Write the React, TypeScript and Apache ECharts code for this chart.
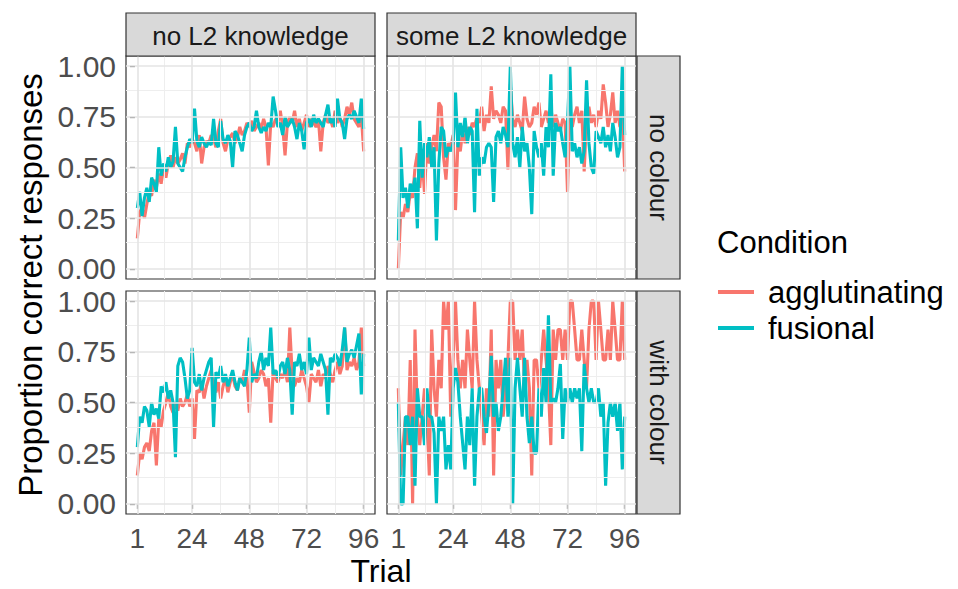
import React, { useEffect, useRef } from "react";
import * as echarts from "echarts";

// ---------- data ----------
const trials = [
  1, 2, 3, 4, 5, 6, 7, 8, 9, 10, 11, 12, 13, 14, 15, 16, 17, 18, 19, 20,
  21, 22, 23, 24, 25, 26, 27, 28, 29, 30, 31, 32, 33, 34, 35, 36, 37, 38, 39, 40,
  41, 42, 43, 44, 45, 46, 47, 48, 49, 50, 51, 52, 53, 54, 55, 56, 57, 58, 59, 60,
  61, 62, 63, 64, 65, 66, 67, 68, 69, 70, 71, 72, 73, 74, 75, 76, 77, 78, 79, 80,
  81, 82, 83, 84, 85, 86, 87, 88, 89, 90, 91, 92, 93, 94, 95, 96,
];
const xTicks = [1, 24, 48, 72, 96];
const xMinor = [12.5, 36, 60, 84];
const yTicks = [0, 0.25, 0.5, 0.75, 1];
const yMinor = [0.125, 0.375, 0.625, 0.875];
const colStrips = ["no L2 knowledge", "some L2 knowledge"];
const rowStrips = ["no colour", "with colour"];
const conditions = ["agglutinating", "fusional"];
const conditionColors = ["#F8766D", "#00BFC4"];

// no L2 knowledge / no colour
const noL2NoColourAgg = [
  0.15, 0.28, 0.30, 0.25, 0.32, 0.38, 0.36, 0.44, 0.40, 0.47,
  0.42, 0.50, 0.45, 0.52, 0.56, 0.50, 0.55, 0.52, 0.54, 0.57,
  0.52, 0.62, 0.60, 0.64, 0.62, 0.58, 0.66, 0.52, 0.60, 0.63,
  0.62, 0.66, 0.64, 0.60, 0.68, 0.74, 0.62, 0.58, 0.64, 0.65,
  0.67, 0.62, 0.65, 0.70, 0.66, 0.68, 0.72, 0.70, 0.73, 0.68,
  0.70, 0.72, 0.69, 0.74, 0.70, 0.51, 0.72, 0.70, 0.74, 0.72,
  0.78, 0.70, 0.56, 0.72, 0.75, 0.72, 0.78, 0.70, 0.74, 0.68,
  0.72, 0.76, 0.70, 0.74, 0.72, 0.70, 0.74, 0.58, 0.72, 0.76,
  0.72, 0.74, 0.70, 0.78, 0.72, 0.75, 0.70, 0.74, 0.80, 0.76,
  0.82, 0.74, 0.72, 0.70, 0.76, 0.58,
];
const noL2NoColourFus = [
  0.30, 0.38, 0.26, 0.35, 0.40, 0.33, 0.45, 0.42, 0.38, 0.60,
  0.46, 0.52, 0.48, 0.55, 0.50, 0.53, 0.70, 0.52, 0.50, 0.48,
  0.55, 0.60, 0.64, 0.62, 0.79, 0.63, 0.60, 0.65, 0.62, 0.60,
  0.63, 0.61, 0.74, 0.62, 0.60, 0.73, 0.64, 0.62, 0.66, 0.63,
  0.50, 0.68, 0.66, 0.62, 0.58, 0.66, 0.70, 0.72, 0.68, 0.70,
  0.78, 0.70, 0.67, 0.70, 0.68, 0.72, 0.70, 0.85, 0.78, 0.70,
  0.72, 0.66, 0.75, 0.70, 0.72, 0.74, 0.70, 0.64, 0.72, 0.68,
  0.59, 0.72, 0.74, 0.70, 0.76, 0.72, 0.74, 0.72, 0.70, 0.76,
  0.81, 0.72, 0.74, 0.70, 0.84, 0.74, 0.72, 0.64, 0.74, 0.76,
  0.74, 0.78, 0.75, 0.72, 0.84, 0.69,
];
// some L2 knowledge / no colour
const someL2NoColourAgg = [
  0.00, 0.28, 0.25, 0.32, 0.28, 0.38, 0.35, 0.50, 0.57, 0.40,
  0.55, 0.37, 0.62, 0.52, 0.60, 0.66, 0.58, 0.82, 0.80, 0.55,
  0.44, 0.62, 0.60, 0.66, 0.29, 0.62, 0.58, 0.68, 0.62, 0.70,
  0.66, 0.72, 0.70, 0.75, 0.72, 0.80, 0.68, 0.76, 0.72, 0.90,
  0.74, 0.78, 0.76, 0.72, 0.80, 0.78, 0.49, 0.91, 0.74, 0.70,
  0.76, 0.72, 0.68, 0.85, 0.74, 0.70, 0.72, 0.80, 0.76, 0.82,
  0.70, 0.74, 0.78, 0.72, 0.80, 0.70, 0.76, 0.72, 0.68, 0.74,
  0.72, 0.38, 0.78, 0.70, 0.76, 0.80, 0.72, 0.78, 0.48, 0.74,
  0.80, 0.72, 0.76, 0.70, 0.78, 0.74, 0.91, 0.82, 0.70, 0.76,
  0.87, 0.72, 0.78, 0.70, 0.80, 0.48,
];
const someL2NoColourFus = [
  0.14, 0.60, 0.35, 0.40, 0.30, 0.42, 0.38, 0.45, 0.20, 0.73,
  0.45, 0.62, 0.55, 0.65, 0.50, 0.60, 0.14, 0.52, 0.70, 0.68,
  0.55, 0.60, 0.58, 0.62, 0.87, 0.60, 0.72, 0.65, 0.75, 0.62,
  0.70, 0.68, 0.28, 0.79, 0.46, 0.55, 0.52, 0.60, 0.62, 0.60,
  0.33, 0.65, 0.68, 0.62, 0.70, 0.66, 0.60, 1.00, 0.62, 0.55,
  0.65, 0.50, 0.70, 0.58, 0.62, 0.50, 0.27, 0.68, 0.60, 0.55,
  0.62, 0.46, 0.70, 0.60, 0.96, 0.46, 0.72, 0.68, 0.70, 0.62,
  0.55, 0.72, 1.00, 0.58, 0.62, 0.55, 0.60, 0.52, 0.58, 0.93,
  0.62, 0.50, 0.47, 0.68, 0.65, 0.62, 0.70, 0.60, 0.66, 0.58,
  0.72, 0.65, 0.55, 0.60, 1.00, 0.66,
];
// no L2 knowledge / with colour
const noL2WithColourAgg = [
  0.14, 0.25, 0.22, 0.28, 0.30, 0.26, 0.36, 0.40, 0.19, 0.42,
  0.38, 0.46, 0.50, 0.55, 0.48, 0.45, 0.50, 0.46, 0.52, 0.48,
  0.50, 0.54, 0.48, 0.52, 0.32, 0.56, 0.55, 0.60, 0.52, 0.58,
  0.62, 0.66, 0.58, 0.55, 0.60, 0.52, 0.58, 0.62, 0.55, 0.60,
  0.64, 0.58, 0.56, 0.62, 0.60, 0.66, 0.62, 0.45, 0.70, 0.65,
  0.60, 0.62, 0.66, 0.64, 0.58, 0.62, 0.40, 0.66, 0.62, 0.60,
  0.64, 0.62, 0.66, 0.60, 0.87, 0.64, 0.58, 0.62, 0.60, 0.66,
  0.62, 0.58, 0.50, 0.64, 0.62, 0.60, 0.66, 0.58, 0.64, 0.62,
  0.68, 0.64, 0.60, 0.66, 0.70, 0.64, 0.68, 0.87, 0.66, 0.70,
  0.68, 0.72, 0.66, 0.70, 0.87, 0.68,
];
const noL2WithColourFus = [
  0.28, 0.43, 0.40, 0.48, 0.46, 0.38, 0.50, 0.44, 0.47, 0.42,
  0.58, 0.55, 0.60, 0.52, 0.56, 0.50, 0.23, 0.68, 0.72, 0.70,
  0.62, 0.52, 0.56, 0.77, 0.60, 0.58, 0.64, 0.56, 0.62, 0.66,
  0.70, 0.72, 0.38, 0.65, 0.62, 0.68, 0.60, 0.64, 0.58, 0.62,
  0.66, 0.60, 0.56, 0.62, 0.60, 0.58, 0.66, 0.82, 0.60, 0.64,
  0.62, 0.70, 0.75, 0.66, 0.72, 0.68, 0.87, 0.64, 0.66, 0.62,
  0.68, 0.70, 0.64, 0.72, 0.66, 0.44, 0.70, 0.68, 0.74, 0.66,
  0.70, 0.64, 0.82, 0.66, 0.72, 0.70, 0.68, 0.74, 0.70, 0.66,
  0.44, 0.72, 0.70, 0.74, 0.72, 0.68, 0.76, 0.87, 0.70, 0.74,
  0.76, 0.72, 0.78, 0.84, 0.54, 0.74,
];
// some L2 knowledge / with colour
const someL2WithColourAgg = [
  0.57, 0.14, 0.29, 0.43, 0.29, 0.71, 0.00, 0.86, 0.43, 0.29,
  0.43, 0.57, 0.43, 0.14, 0.86, 0.57, 0.43, 0.71, 0.57, 1.00,
  0.86, 1.00, 0.43, 0.71, 1.00, 0.71, 0.57, 0.71, 0.57, 0.86,
  0.71, 0.57, 1.00, 0.71, 0.57, 0.43, 0.29, 0.57, 0.43, 0.86,
  0.14, 0.71, 0.57, 0.71, 0.43, 0.57, 0.71, 1.00, 1.00, 0.71,
  0.86, 0.71, 0.86, 0.57, 0.71, 0.57, 0.14, 0.71, 0.71, 0.57,
  0.71, 0.86, 0.71, 0.57, 0.29, 0.86, 0.71, 0.86, 0.86, 0.71,
  0.86, 0.71, 1.00, 1.00, 0.86, 0.71, 0.71, 0.86, 0.71, 0.57,
  0.86, 1.00, 1.00, 0.71, 1.00, 0.86, 0.71, 0.71, 0.86, 0.71,
  1.00, 0.86, 0.71, 0.71, 1.00, 0.71,
];
const someL2WithColourFus = [
  0.50, 0.00, 0.00, 0.43, 0.43, 0.29, 0.43, 0.09, 0.57, 0.43,
  0.43, 0.29, 0.57, 0.43, 0.43, 0.35, 0.00, 0.43, 0.36, 0.43,
  0.17, 0.29, 0.17, 0.57, 0.67, 0.60, 0.43, 0.30, 0.17, 0.43,
  0.29, 0.57, 0.09, 0.43, 0.57, 0.57, 0.43, 0.35, 0.50, 0.73,
  0.43, 0.50, 0.36, 0.43, 0.57, 0.72, 0.43, 0.72, 0.00, 0.57,
  0.72, 0.57, 0.43, 0.72, 0.43, 0.30, 0.43, 0.25, 0.25, 0.57,
  0.43, 0.67, 0.50, 0.93, 0.50, 0.52, 0.50, 0.57, 0.69, 0.32,
  0.57, 0.50, 0.57, 0.50, 0.57, 0.52, 0.57, 0.26, 0.69, 0.57,
  0.50, 0.57, 0.50, 0.50, 0.57, 0.43, 0.50, 0.09, 0.40, 0.50,
  0.43, 0.50, 0.36, 0.50, 0.17, 0.43,
];

const panelData = [
  [noL2NoColourAgg, noL2NoColourFus],
  [someL2NoColourAgg, someL2NoColourFus],
  [noL2WithColourAgg, noL2WithColourFus],
  [someL2WithColourAgg, someL2WithColourFus],
];

// ---------- layout ----------
const FONT = "'Liberation Sans', Arial, Helvetica, sans-serif";
const PANEL_LEFT = [126, 387];
const PANEL_TOP = [56, 291];
const PANEL_W = 249;
const PANEL_H = 223;
const STRIP_TOP_Y = 13;
const STRIP_RIGHT_X = 637;
const STRIP_RIGHT_W = 43;

export default function App() {
  const ref = useRef<HTMLDivElement>(null);

  useEffect(() => {
    document.body.style.margin = "0";
    if (!ref.current) return;
    const chart = echarts.init(ref.current, null, { renderer: "svg" });

    const grids: any[] = [];
    const xAxes: any[] = [];
    const yAxes: any[] = [];
    const series: any[] = [];

    for (let p = 0; p < 4; p++) {
      const row = Math.floor(p / 2);
      const col = p % 2;
      grids.push({
        left: PANEL_LEFT[col],
        top: PANEL_TOP[row],
        width: PANEL_W,
        height: PANEL_H,
        show: true,
        backgroundColor: "#ffffff",
        borderColor: "#333333",
        borderWidth: 1.2,
        z: 0,
      });
      xAxes.push({
        type: "value",
        gridIndex: p,
        min: -3.75,
        max: 100.75,
        axisLine: { show: false },
        splitLine: { show: false },
        axisTick: {
          show: row === 1,
          customValues: xTicks,
          length: 5,
          lineStyle: { color: "#333333", width: 1.2 },
        },
        axisLabel: {
          show: row === 1,
          customValues: xTicks,
          formatter: (v: number) => String(v),
          color: "#4d4d4d",
          fontSize: 28,
          fontFamily: FONT,
          margin: 10,
        },
      });
      yAxes.push({
        type: "value",
        gridIndex: p,
        min: -0.05,
        max: 1.05,
        axisLine: { show: false },
        splitLine: { show: false },
        axisTick: {
          show: col === 0,
          customValues: yTicks,
          length: 5,
          lineStyle: { color: "#333333", width: 1.2 },
        },
        axisLabel: {
          show: col === 0,
          customValues: yTicks,
          formatter: (v: number) => v.toFixed(2),
          color: "#4d4d4d",
          fontSize: 30,
          fontFamily: FONT,
          margin: 10,
        },
      });
      // grid lines (minor then major)
      const mk = (xs: number[], ys: number[], color: string, width: number) => ({
        type: "line",
        xAxisIndex: p,
        yAxisIndex: p,
        data: [],
        silent: true,
        z: 1,
        markLine: {
          silent: true,
          symbol: ["none", "none"],
          label: { show: false },
          animation: false,
          lineStyle: { color, width, type: "solid" },
          emphasis: { disabled: true },
          data: [
            ...xs.map((v) => ({ xAxis: v })),
            ...ys.map((v) => ({ yAxis: v })),
          ],
        },
      });
      series.push(mk(xMinor, yMinor, "#eeeeee", 1));
      series.push(mk(xTicks, yTicks, "#e4e4e4", 1.6));

      for (let c = 0; c < 2; c++) {
        series.push({
          name: conditions[c],
          type: "line",
          xAxisIndex: p,
          yAxisIndex: p,
          data: trials.map((t, i) => [t, panelData[p][c][i]]),
          showSymbol: false,
          symbol: "none",
          z: 3 + c,
          lineStyle: { color: conditionColors[c], width: 3.1 },
          itemStyle: { color: conditionColors[c] },
          emphasis: { disabled: true },
        });
      }
    }

    const graphic: any[] = [];
    for (let c = 0; c < 2; c++) {
      graphic.push({
        type: "rect",
        shape: { x: PANEL_LEFT[c], y: STRIP_TOP_Y, width: PANEL_W, height: PANEL_TOP[0] - STRIP_TOP_Y },
        style: { fill: "#d9d9d9", stroke: "#333333", lineWidth: 1.2 },
        z: 10,
      });
      graphic.push({
        type: "text",
        x: PANEL_LEFT[c] + PANEL_W / 2,
        y: (STRIP_TOP_Y + PANEL_TOP[0]) / 2 + 1,
        style: {
          text: colStrips[c],
          fill: "#1a1a1a",
          fontSize: 26,
          fontFamily: FONT,
          align: "center",
          verticalAlign: "middle",
        },
        z: 11,
      });
    }
    for (let r = 0; r < 2; r++) {
      graphic.push({
        type: "rect",
        shape: { x: STRIP_RIGHT_X, y: PANEL_TOP[r], width: STRIP_RIGHT_W, height: PANEL_H },
        style: { fill: "#d9d9d9", stroke: "#333333", lineWidth: 1.2 },
        z: 10,
      });
      graphic.push({
        type: "text",
        x: STRIP_RIGHT_X + STRIP_RIGHT_W / 2,
        y: PANEL_TOP[r] + PANEL_H / 2,
        rotation: -Math.PI / 2,
        style: {
          text: rowStrips[r],
          fill: "#1a1a1a",
          fontSize: 26,
          fontFamily: FONT,
          align: "center",
          verticalAlign: "middle",
        },
        z: 11,
      });
    }
    graphic.push({
      type: "text",
      x: 30,
      y: (PANEL_TOP[0] + PANEL_TOP[1] + PANEL_H) / 2,
      rotation: Math.PI / 2,
      style: {
        text: "Proportion correct responses",
        fill: "#000000",
        fontSize: 33,
        fontFamily: FONT,
        align: "center",
        verticalAlign: "middle",
      },
    });
    graphic.push({
      type: "text",
      x: (PANEL_LEFT[0] + PANEL_LEFT[1] + PANEL_W) / 2,
      y: 571,
      style: {
        text: "Trial",
        fill: "#000000",
        fontSize: 32,
        fontFamily: FONT,
        align: "center",
        verticalAlign: "middle",
      },
    });
    graphic.push({
      type: "text",
      x: 717,
      y: 242,
      style: {
        text: "Condition",
        fill: "#000000",
        fontSize: 31,
        fontFamily: FONT,
        align: "left",
        verticalAlign: "middle",
      },
    });

    chart.setOption({
      animation: false,
      backgroundColor: "#ffffff",
      grid: grids,
      xAxis: xAxes,
      yAxis: yAxes,
      series,
      graphic,
      legend: {
        data: conditions,
        orient: "vertical",
        left: 718,
        top: 274,
        padding: 0,
        itemGap: 0,
        icon: "rect",
        itemWidth: 36,
        itemHeight: 4,
        selectedMode: false,
        textStyle: {
          fontSize: 31,
          fontFamily: FONT,
          color: "#000000",
          lineHeight: 36,
          padding: [0, 0, 0, 9],
        },
      },
    });

    return () => chart.dispose();
  }, []);

  return <div ref={ref} style={{ width: 958, height: 589 }} />;
}
